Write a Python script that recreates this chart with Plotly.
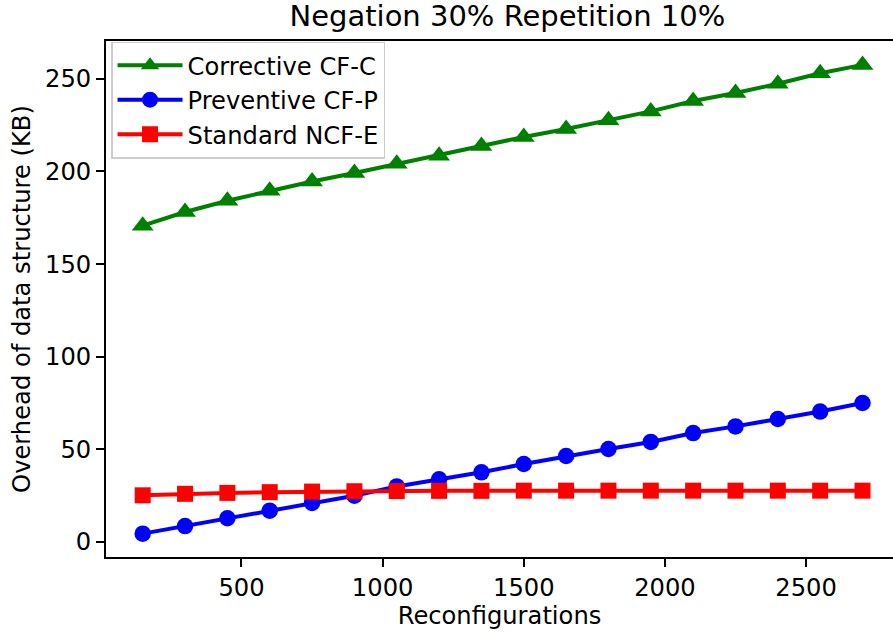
import plotly.graph_objects as go

reconfigurations = [150, 300, 450, 600, 750, 900, 1050, 1200, 1350, 1500,
                    1650, 1800, 1950, 2100, 2250, 2400, 2550, 2700]
corrective = [170.7, 178.1, 184.2, 189.6, 194.6, 199.2, 204.1, 208.5, 213.7, 218.6,
              222.9, 227.6, 232.4, 238.0, 242.3, 247.3, 253.0, 257.5]
preventive = [4.5, 8.6, 12.8, 16.9, 21.1, 25.0, 30.0, 33.8, 37.6, 42.1,
              46.4, 50.2, 54.0, 58.8, 62.4, 66.4, 70.4, 75.0]
standard = [25.2, 26.0, 26.5, 26.9, 27.2, 27.4, 27.5, 27.6, 27.6, 27.7,
            27.7, 27.7, 27.7, 27.7, 27.7, 27.7, 27.7, 27.7]

series_names = ["Corrective CF-C", "Preventive CF-P", "Standard NCF-E"]
title_text = "Negation 30% Repetition 10%"
x_title = "Reconfigurations"
y_title = "Overhead of data structure (KB)"
x_ticks = [500, 1000, 1500, 2000, 2500]
y_ticks = [0, 50, 100, 150, 200, 250]

FONT = "DejaVu Sans"
FS = 24.2

fig = go.Figure()
styles = [
    (corrective, "green", "triangle-up", 19),
    (preventive, "blue", "circle", 16.5),
    (standard, "red", "square", 16),
]
for i, (vals, col, sym, ms) in enumerate(styles):
    fig.add_trace(go.Scatter(
        x=reconfigurations, y=vals, mode="lines+markers",
        name=series_names[i], legendgroup=f"g{i}",
        line=dict(color=col, width=4),
        marker=dict(symbol=sym, size=ms, color=col, line=dict(width=0)),
    ))

axis_common = dict(
    showgrid=False, zeroline=False, showline=True, linecolor="black",
    linewidth=1.8, ticks="outside", ticklen=8, tickwidth=1.8, tickcolor="black",
    tickfont=dict(family=FONT, size=FS, color="black"), automargin=False,
)

fig.update_layout(
    width=893, height=632,
    margin=dict(l=106, r=0, t=41, b=75),
    paper_bgcolor="white", plot_bgcolor="white",
    font=dict(family=FONT, size=FS, color="black"),
    title=dict(text=title_text, x=0.51, xref="paper", xanchor="center",
               y=1 - 16 / 632, yref="container", yanchor="middle",
               font=dict(family=FONT, size=29, color="black")),
    xaxis=dict(range=[20, 2808], tickvals=x_ticks, mirror=True,
               title=dict(text=x_title, standoff=6,
                          font=dict(family=FONT, size=FS)),
               **axis_common),
    yaxis=dict(range=[-8.1, 270.4], tickvals=y_ticks, mirror=False,
               title=dict(text=y_title, standoff=8,
                          font=dict(family=FONT, size=FS)),
               **axis_common),
    legend=dict(x=0.0064, y=0.999, xanchor="left", yanchor="top",
                bgcolor="white", bordercolor="#cccccc", borderwidth=1.5,
                font=dict(family=FONT, size=FS, color="black"),
                tracegroupgap=0, itemwidth=65),
    showlegend=True,
)

fig.write_html("out.html", config={"displayModeBar": False},
               post_script="document.body.style.margin='0';")
